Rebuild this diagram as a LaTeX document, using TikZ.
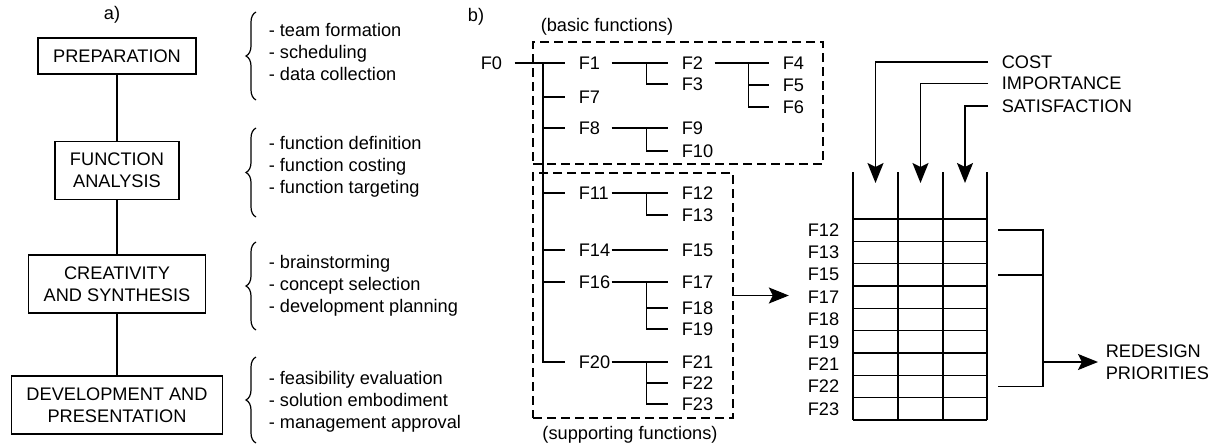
\documentclass[tikz,border=0pt]{standalone}
\usepackage{fontspec}
\setmainfont{Liberation Sans}
\usetikzlibrary{arrows.meta,decorations.pathreplacing,calc}
\newcommand\figfont{\fontsize{18.2}{22}\selectfont}

\begin{document}
\begin{tikzpicture}[x=1pt, y=-1pt,
  every node/.style={font=\figfont},
  line width=1.6pt,
  arr/.style={-{Stealth[length=20pt, width=16pt, inset=4pt]}},
  stage/.style={draw, align=center, inner xsep=15pt, inner ysep=11.5pt},
  steps/.style={align=left, anchor=west, inner sep=2pt},
  curly/.style={decorate, line width=1.2pt, decoration={brace, amplitude=10pt}},
  group/.style={draw, dash pattern=on 9pt off 5pt, line width=1.7pt, inner sep=0pt},
  fn/.style={anchor=west, text width=32pt, align=left, inner xsep=0pt, inner ysep=2pt},
  tw/.style={shorten >=13pt},
  hdr/.style={anchor=west, inner xsep=13pt},
  rowlab/.style={anchor=east, inner xsep=3pt}]
\useasboundingbox (0,0) rectangle (1216,447);

% a) stages of the study
\node (la) at (112,15) {a)};
\node[stage] (prep) at (117,56) {PREPARATION};
\node[stage] (func) at (117,170.5) {FUNCTION\\ANALYSIS};
\node[stage] (creat) at (117,284) {CREATIVITY\\AND SYNTHESIS};
\node[stage] (devel) at (117,405) {DEVELOPMENT AND\\PRESENTATION};
\draw (prep) -- (func) -- (creat) -- (devel);

\node[steps] (prepsteps) at (266,52) {- team formation\\- scheduling\\- data collection};
\node[steps] (funcsteps) at (266,167) {- function definition\\- function costing\\- function targeting};
\node[steps] (creatsteps) at (266,286) {- brainstorming\\- concept selection\\- development planning};
\node[steps] (develsteps) at (266,402) {- feasibility evaluation\\- solution embodiment\\- management approval};
\draw[curly] (256,100) -- (256,12);
\draw[curly] (256,217) -- (256,128);
\draw[curly] (256,330) -- (256,242);
\draw[curly] (256,443) -- (256,357);

% b) function tree
\node (lb) at (476,17) {b)};
\node[group, minimum width=290pt, minimum height=122pt] (basic) at (678,103) {};
\node[group, minimum width=200pt, minimum height=245pt] (support) at (633,295.5) {};
\node (basiclab) at (607,27) {(basic functions)};
\node (supplab) at (630,435) {(supporting functions)};

\node[fn] (f0) at (480,63) {F0};
\node[fn] (f1) at (578,63) {F1};
\node[fn] (f7) at (578,97) {F7};
\node[fn] (f8) at (578,128) {F8};
\node[fn] (f11) at (578,193) {F11};
\node[fn] (f14) at (578,250) {F14};
\node[fn] (f16) at (578,282) {F16};
\node[fn] (f20) at (578,362) {F20};
\node[fn] (f2) at (681,63) {F2};
\node[fn] (f3) at (681,84) {F3};
\node[fn] (f9) at (681,128) {F9};
\node[fn] (f10) at (681,151) {F10};
\node[fn] (f12) at (681,193) {F12};
\node[fn] (f13) at (681,215) {F13};
\node[fn] (f15) at (681,250) {F15};
\node[fn] (f17) at (681,282) {F17};
\node[fn] (f18) at (681,308) {F18};
\node[fn] (f19) at (681,329) {F19};
\node[fn] (f21) at (681,362) {F21};
\node[fn] (f22) at (681,383) {F22};
\node[fn] (f23) at (681,404) {F23};
\node[fn] (f4) at (782,63) {F4};
\node[fn] (f5) at (782,85) {F5};
\node[fn] (f6) at (782,107) {F6};

\coordinate (trunk) at (543,63);
\draw[shorten <=1pt, tw] (f0.east) -- (f1.west);
\draw[tw] (trunk) |- (f20.west);
\foreach \n in {f7,f8,f11,f14,f16}
  \draw[tw] (trunk |- \n) -- (\n.west);

\draw[tw] (f1.east) -- (f2.west);
\draw[tw] ($(f1.east)!.5!(f2.west)$) |- (f3.west);
\draw[tw] (f2.east) -- (f4.west);
\coordinate (j2) at ($(f2.east)!.5!(f4.west)$);
\draw[tw] (j2) |- (f6.west);
\draw[tw] (j2 |- f5) -- (f5.west);
\draw[tw] (f8.east) -- (f9.west);
\draw[tw] ($(f8.east)!.5!(f9.west)$) |- (f10.west);
\draw[tw] (f11.east) -- (f12.west);
\draw[tw] ($(f11.east)!.5!(f12.west)$) |- (f13.west);
\draw[tw] (f14.east) -- (f15.west);
\draw[tw] (f16.east) -- (f17.west);
\coordinate (j16) at ($(f16.east)!.5!(f17.west)$);
\draw[tw] (j16) |- (f19.west);
\draw[tw] (j16 |- f18) -- (f18.west);
\draw[tw] (f20.east) -- (f21.west);
\coordinate (j20) at ($(f20.east)!.5!(f21.west)$);
\draw[tw] (j20) |- (f23.west);
\draw[tw] (j20 |- f22) -- (f22.west);

% rating table
\draw[arr] (support.east) -- ++(55,0);
\foreach \c in {853,898,943,987}
  \draw (\c,172) -- (\c,420);
\foreach \r in {0,...,9}
  \draw (853,219+22.33*\r) -- (987,219+22.33*\r);
\foreach \f [count=\i] in {12,13,15,17,18,19,21,22,23}
  \node[rowlab] (r\f) at (843,219+22.33*\i-11.17) {F\f};

\node[hdr] (cost) at (988,62) {COST};
\node[hdr] (imp) at (988,83.5) {IMPORTANCE};
\node[hdr] (sat) at (988,106) {SATISFACTION};
\draw[arr] (cost.west) -| (875.5,183);
\draw[arr] (imp.west) -| (920.5,183);
\draw[arr] (sat.west) -| (965,183);

\coordinate (brk) at (998,0);
\coordinate (brkx) at (1043,0);
\node[anchor=west, align=left, inner xsep=7pt] (redesign) at (1098,362) {REDESIGN\\PRIORITIES};
\draw (r12 -| brk) -| (r22 -| brkx) -- (r22 -| brk);
\draw (r15 -| brk) -- (r15 -| brkx);
\draw[arr] (brkx |- redesign) -- (redesign.west);
\end{tikzpicture}
\end{document}
